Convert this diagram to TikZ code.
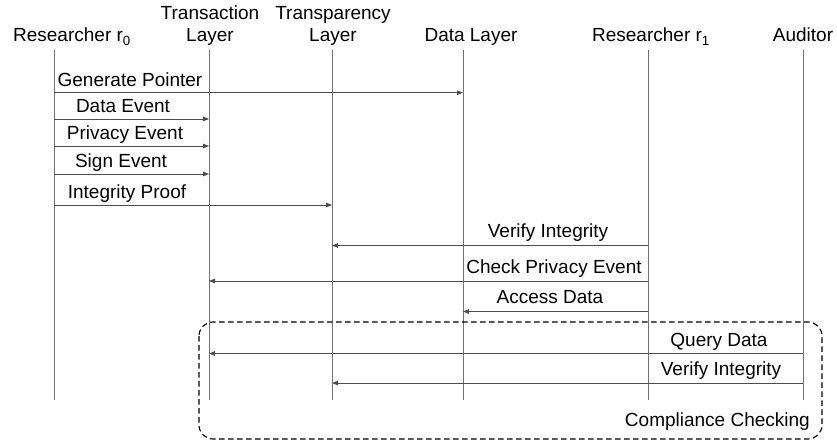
\documentclass[tikz,border=0pt]{standalone}
\usepackage{fontspec}
\setmainfont{Liberation Sans}
\usetikzlibrary{arrows.meta}
\begin{document}
\begin{tikzpicture}[x=1pt,y=-1pt,
  lbl/.style={font=\fontsize{19}{22}\selectfont, inner sep=0pt, anchor=base},
  head/.style={font=\fontsize{19}{22}\selectfont, inner sep=0pt, anchor=base, align=center},
  life/.style={draw=black!55, line width=0.8pt},
  msg/.style={draw=black!70, line width=0.8pt, -{Triangle[length=6pt,width=4.5pt]}},
  group/.style={draw=black, dashed, dash pattern=on 5.5pt off 3.5pt, line width=1.1pt, rounded corners=14pt}]
\useasboundingbox (0,0) rectangle (837,443);
% headers
\node[head] (h0) at (72,42) {Researcher r\textsubscript{0}};
\node[head] (h1) at (210,42) {Layer};
\node[head] (h1t) at (210,20) {Transaction};
\node[head] (h2) at (333,42) {Layer};
\node[head] (h2t) at (333,20) {Transparency};
\node[head] (h3) at (471,42) {Data Layer};
\node[head] (h4) at (651,42) {Researcher r\textsubscript{1}};
\node[head] (h5) at (803,42) {Auditor};
% lifelines
\foreach \n/\x in {0/54,1/209,2/332,3/463,4/648,5/803}{
  \coordinate (T\n) at (\x,50);
  \coordinate (B\n) at (\x,400);
  \draw[life] (T\n) -- (B\n);
}
% messages
\draw[msg] (T0 |- 0,92.7) -- (T3 |- 0,92.7);
\node[lbl] (m1) at (130,86.5) {Generate Pointer};
\draw[msg] (T0 |- 0,119) -- (T1 |- 0,119);
\node[lbl] (m2) at (123,112.5) {Data Event};
\draw[msg] (T0 |- 0,146) -- (T1 |- 0,146);
\node[lbl] (m3) at (125,139.5) {Privacy Event};
\draw[msg] (T0 |- 0,174) -- (T1 |- 0,174);
\node[lbl] (m4) at (121,167.5) {Sign Event};
\draw[msg] (T0 |- 0,205) -- (T2 |- 0,205);
\node[lbl] (m5) at (127,198.5) {Integrity Proof};
\draw[msg] (T4 |- 0,245.5) -- (T2 |- 0,245.5);
\node[lbl] (m6) at (548,238) {Verify Integrity};
\draw[msg] (T4 |- 0,281) -- (T1 |- 0,281);
\node[lbl] (m7) at (554,273.5) {Check Privacy Event};
\draw[msg] (T4 |- 0,311.5) -- (T3 |- 0,311.5);
\node[lbl] (m8) at (550,304) {Access Data};
\draw[msg] (T5 |- 0,353.5) -- (T1 |- 0,353.5);
\node[lbl] (m9) at (719,346) {Query Data};
\draw[msg] (T5 |- 0,383) -- (T2 |- 0,383);
\node[lbl] (m10) at (721,375.5) {Verify Integrity};
% group box
\draw[group] (199,322) rectangle (822,439);
\node[lbl, anchor=base east] (g) at (810,426) {Compliance Checking};
\end{tikzpicture}
\end{document}
